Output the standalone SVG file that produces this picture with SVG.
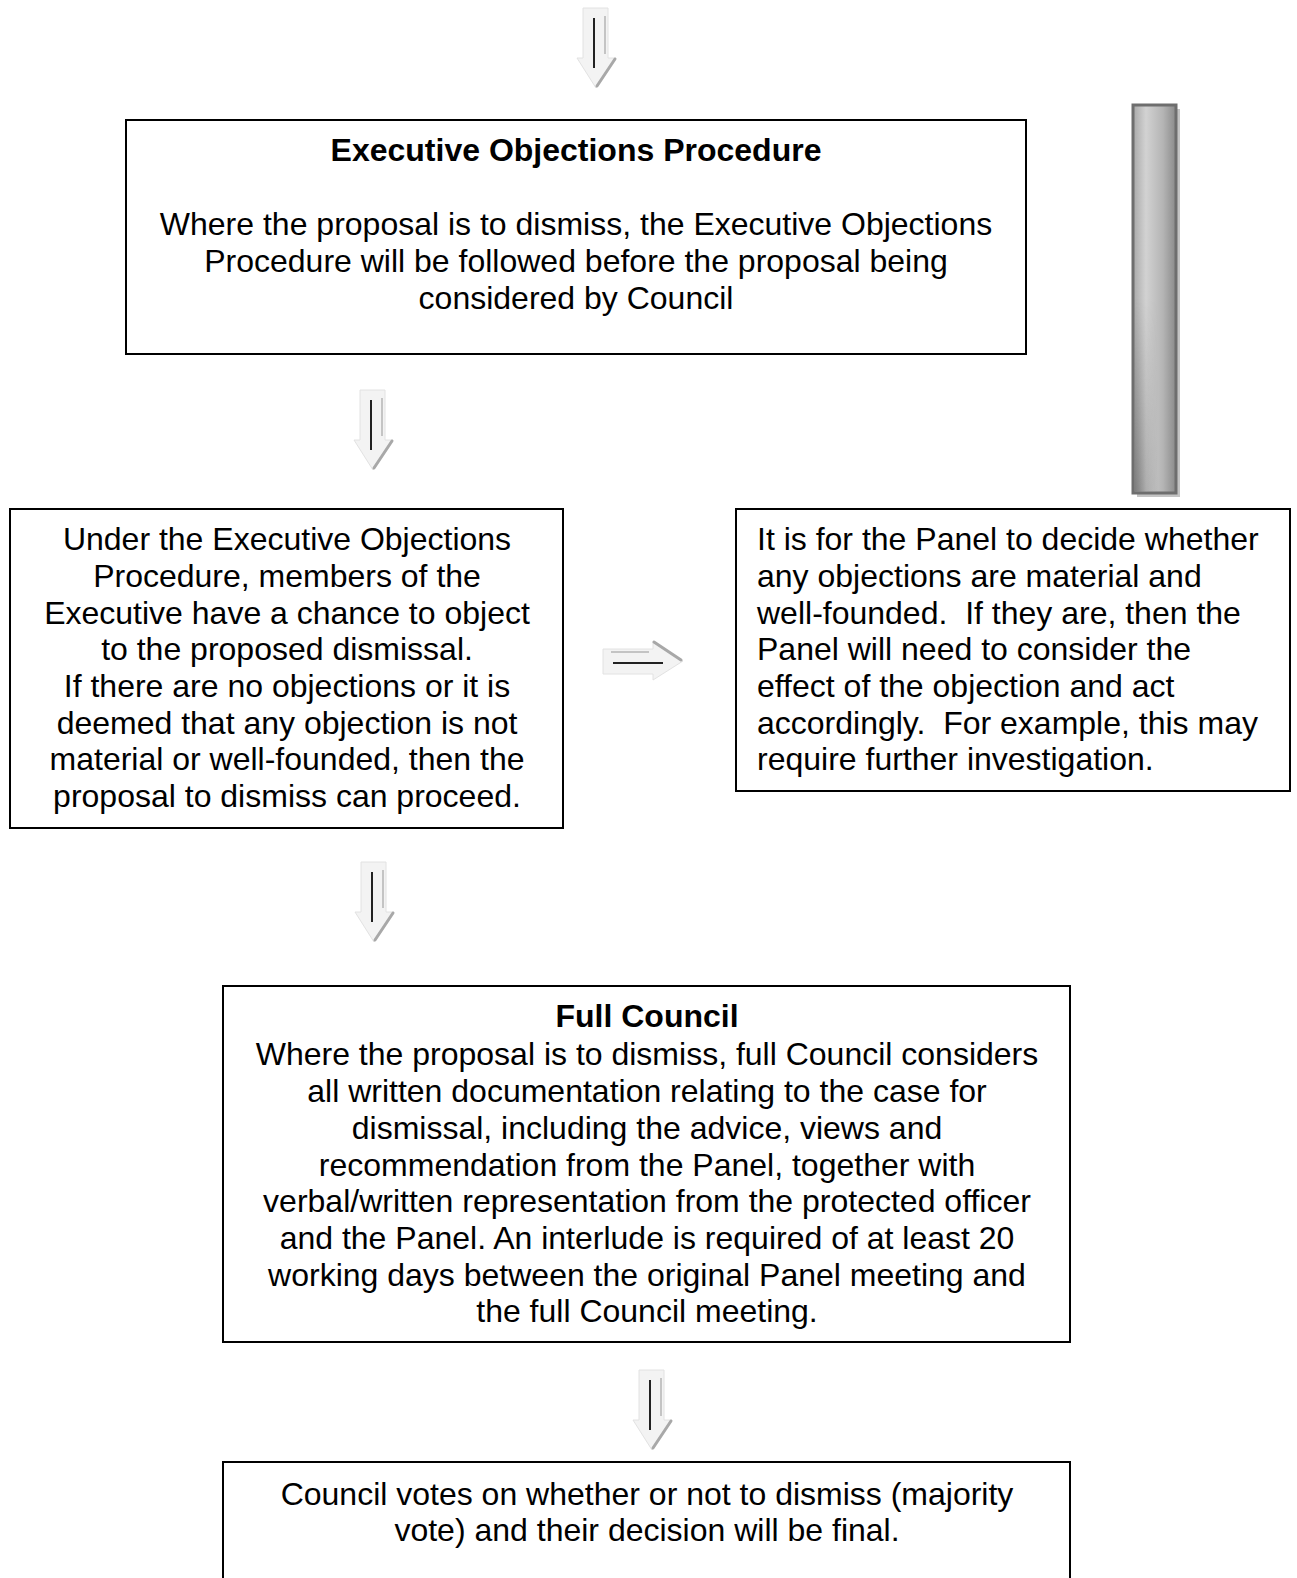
<svg xmlns="http://www.w3.org/2000/svg" width="1297" height="1578" viewBox="0 0 1297 1578">
<style>
.box{fill:#fff;stroke:#000;stroke-width:2}
.t{font-family:"Liberation Sans",Arial,sans-serif;font-size:32px;fill:#000;white-space:pre}
.c{text-anchor:middle}
.b{font-weight:bold}
.arbody{fill:#f3f3f3;stroke:#e2e2e2;stroke-width:1}
.arshadow{fill:none;stroke:#a8a8a8;stroke-width:3;stroke-linecap:round}
</style>
<defs>
<linearGradient id="barg" x1="0" y1="0" x2="1" y2="0">
<stop offset="0" stop-color="#a8a8a8"/>
<stop offset="0.3" stop-color="#d2d2d2"/>
<stop offset="0.7" stop-color="#b4b4b4"/>
<stop offset="1" stop-color="#8a8a8a"/>
</linearGradient>
<linearGradient id="barv" x1="0" y1="0" x2="1" y2="0">
<stop offset="0" stop-color="#5a5a5a" stop-opacity="0.6"/>
<stop offset="0.6" stop-color="#5a5a5a" stop-opacity="0"/>
</linearGradient>
<linearGradient id="barvm" x1="0" y1="0" x2="0" y2="1">
<stop offset="0.5" stop-color="#fff" stop-opacity="0"/>
<stop offset="1" stop-color="#fff" stop-opacity="1"/>
</linearGradient>
<mask id="bm"><rect x="1133" y="105" width="43" height="388" fill="url(#barvm)"/></mask>
<g id="darrow">
<path class="arbody" d="M-13,-80 L12,-80 L12,-30 L20,-30 L0,0 L-19,-30 L-13,-30 Z"/>
<path class="arshadow" d="M19,-29 L1,-2"/>
<line x1="-2" y1="-70" x2="-2" y2="-20" stroke="#222" stroke-width="2"/>
<line x1="9" y1="-72" x2="9" y2="-34" stroke="#c4c4c4" stroke-width="2"/>
</g>
</defs>

<g id="connectors">
<use href="#darrow" transform="translate(596,88)"/>
<use href="#darrow" transform="translate(373,470)"/>
<use href="#darrow" transform="translate(374,942)"/>
<use href="#darrow" transform="translate(652,1450)"/>
<use href="#darrow" transform="translate(683,661) rotate(-90)"/>
</g>

<g id="bar">
<rect x="1137" y="109" width="43" height="388" fill="#c4c4c4"/>
<rect x="1133" y="105" width="43" height="388" fill="url(#barg)" stroke="#6e6e6e" stroke-width="3"/>
<rect x="1134.5" y="106.5" width="40" height="385" fill="url(#barv)" mask="url(#bm)"/>
</g>

<g id="node-executive-objections">
<rect class="box" x="126" y="120" width="900" height="234"/>
<text class="t c b" x="576" y="161">Executive Objections Procedure</text>
<text class="t c" x="576" y="235">Where the proposal is to dismiss, the Executive Objections</text>
<text class="t c" x="576" y="272">Procedure will be followed before the proposal being</text>
<text class="t c" x="576" y="309">considered by Council</text>
</g>

<g id="node-under-procedure">
<rect class="box" x="10" y="509" width="553" height="319"/>
<text class="t c" x="287" y="550">Under the Executive Objections</text>
<text class="t c" x="287" y="587">Procedure, members of the</text>
<text class="t c" x="287" y="624">Executive have a chance to object</text>
<text class="t c" x="287" y="660">to the proposed dismissal.</text>
<text class="t c" x="287" y="697">If there are no objections or it is</text>
<text class="t c" x="287" y="734">deemed that any objection is not</text>
<text class="t c" x="287" y="770">material or well-founded, then the</text>
<text class="t c" x="287" y="807">proposal to dismiss can proceed.</text>
</g>

<g id="node-panel-decides">
<rect class="box" x="736" y="509" width="554" height="282"/>
<text class="t" x="757" y="550">It is for the Panel to decide whether</text>
<text class="t" x="757" y="587">any objections are material and</text>
<text class="t" x="757" y="624" xml:space="preserve">well-founded.  If they are, then the</text>
<text class="t" x="757" y="660">Panel will need to consider the</text>
<text class="t" x="757" y="697">effect of the objection and act</text>
<text class="t" x="757" y="734" xml:space="preserve">accordingly.  For example, this may</text>
<text class="t" x="757" y="770">require further investigation.</text>
</g>

<g id="node-full-council">
<rect class="box" x="223" y="986" width="847" height="356"/>
<text class="t c b" x="647" y="1027">Full Council</text>
<text class="t c" x="647" y="1065">Where the proposal is to dismiss, full Council considers</text>
<text class="t c" x="647" y="1102">all written documentation relating to the case for</text>
<text class="t c" x="647" y="1139">dismissal, including the advice, views and</text>
<text class="t c" x="647" y="1176">recommendation from the Panel, together with</text>
<text class="t c" x="647" y="1212">verbal/written representation from the protected officer</text>
<text class="t c" x="647" y="1249">and the Panel. An interlude is required of at least 20</text>
<text class="t c" x="647" y="1286">working days between the original Panel meeting and</text>
<text class="t c" x="647" y="1322">the full Council meeting.</text>
</g>

<g id="node-council-votes">
<rect class="box" x="223" y="1462" width="847" height="160"/>
<text class="t c" x="647" y="1505">Council votes on whether or not to dismiss (majority</text>
<text class="t c" x="647" y="1541">vote) and their decision will be final.</text>
</g>
</svg>
